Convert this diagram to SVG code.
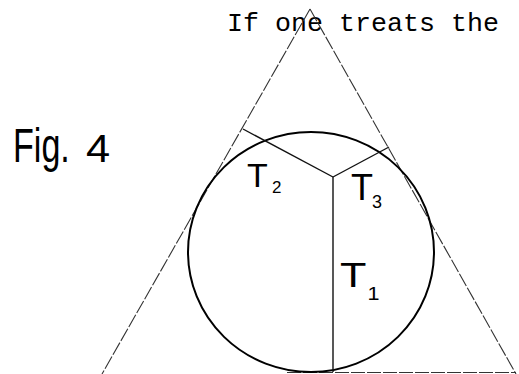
<svg xmlns="http://www.w3.org/2000/svg" width="519" height="374" viewBox="0 0 519 374">
<style>
.tri{stroke:#333;stroke-width:1.1;fill:none;stroke-dasharray:14 2}
.rad{stroke:#111;stroke-width:1.4;fill:none}
.circ{stroke:#000;stroke-width:2;fill:none}
.hand{font-family:"Liberation Sans","DejaVu Sans",sans-serif;fill:#000}
.type{font-family:"Liberation Mono","DejaVu Sans Mono",monospace;fill:#000}
</style>
<rect width="519" height="374" fill="#fff"/>
<text class="type" x="227" y="31" font-size="26.67">If one treats the</text>
<g id="fig-label">
<text class="hand" font-size="48" transform="translate(13,162) scale(0.71,1)">Fig.</text>
<text class="hand" font-size="38" transform="translate(86,162) scale(1.14,1)">4</text>
</g>
<g id="triangle">
<line class="tri" x1="310" y1="9" x2="102" y2="374"/>
<line class="tri" x1="310" y1="9" x2="516" y2="374"/>
<line class="tri" x1="287" y1="372.5" x2="516" y2="372.5"/>
</g>
<g id="circle">
<ellipse class="circ" cx="311" cy="252" rx="123" ry="120"/>
</g>
<g id="connectors">
<line class="rad" x1="333" y1="177" x2="243" y2="129"/>
<line class="rad" x1="333" y1="177" x2="389" y2="147"/>
<line class="rad" x1="333" y1="177" x2="333" y2="372"/>
</g>
<g id="T1">
<text class="hand" font-size="36" transform="translate(340,287) scale(1.2,1)">T<tspan x="23" y="13" font-size="18">1</tspan></text>
</g>
<g id="T2">
<text class="hand" x="247" y="187" font-size="34">T<tspan x="272" y="193" font-size="17">2</tspan></text>
</g>
<g id="T3">
<text class="hand" x="351" y="200" font-size="36">T<tspan x="372" y="208" font-size="18">3</tspan></text>
</g>
</svg>
